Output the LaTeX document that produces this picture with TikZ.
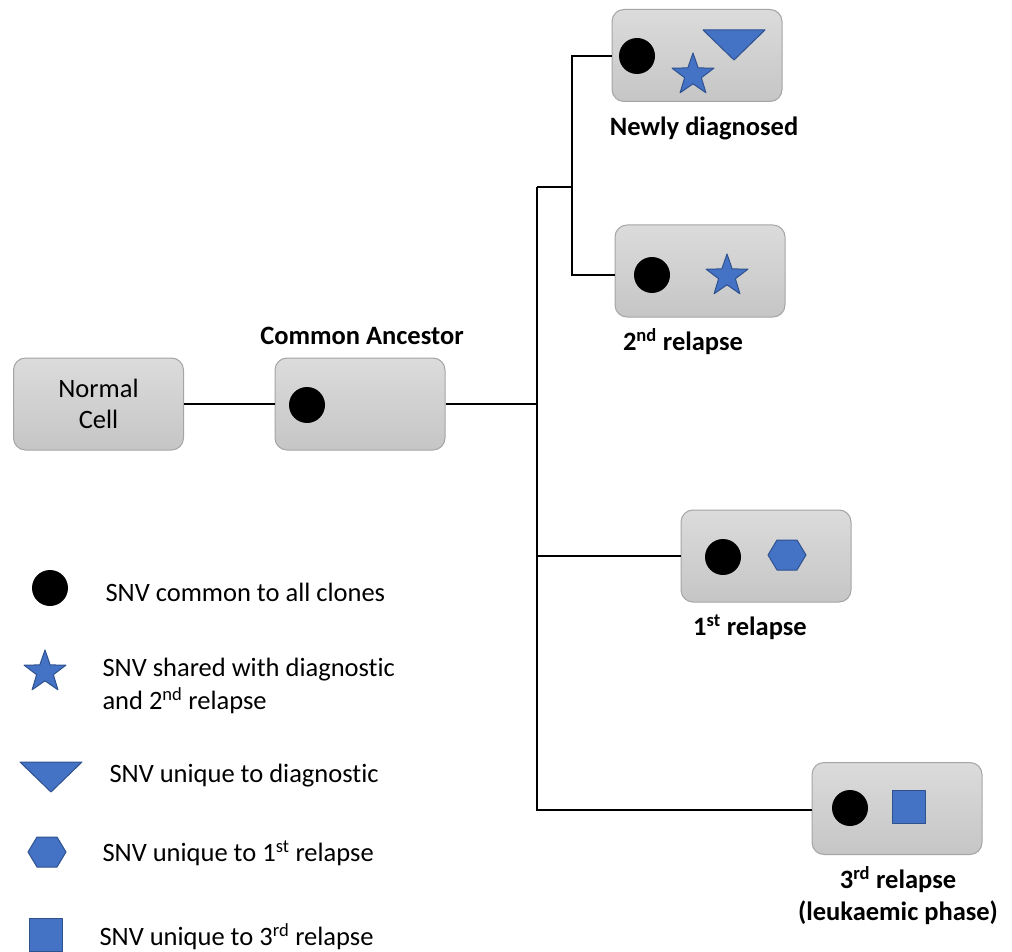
\documentclass[tikz,border=0pt]{standalone}
\usepackage{fontspec}
\setmainfont[Ligatures=NoCommon]{Carlito}
\usetikzlibrary{shapes.geometric}
\definecolor{snvblue}{RGB}{68,114,196}
\definecolor{snvedge}{RGB}{47,82,143}
\definecolor{celledge}{RGB}{165,165,165}

% flat triangle and hexagon for the markers
\newcommand{\snvtri}[2]{\draw[snvmark] (#1-31,#2-15) -- (#1+31,#2-15) -- (#1,#2+15) -- cycle;}
\newcommand{\snvhex}[2]{\draw[snvmark] (#1-19,#2) -- (#1-10,#2-15) -- (#1+10,#2-15) -- (#1+19,#2) -- (#1+10,#2+15) -- (#1-10,#2+15) -- cycle;}

\begin{document}
\begin{tikzpicture}[x=1pt, y=-1pt,
  cell/.style={draw=celledge, line width=1pt, rounded corners=12pt,
    top color=gray!28, bottom color=gray!45,
    minimum width=170pt, minimum height=92pt, inner sep=0pt,
    align=center, font=\fontsize{26.5}{31}\selectfont},
  dot/.style={circle, fill=black, minimum size=36pt, inner sep=0pt},
  snvmark/.style={fill=snvblue, draw=snvedge, line width=1pt, line join=round},
  starmark/.style={star, star points=5, star point ratio=2.5, snvmark,
    minimum size=44pt, inner sep=0pt},
  sqmark/.style={rectangle, snvmark, minimum size=33pt, inner sep=0pt},
  title/.style={font=\fontsize{26.5}{32}\bfseries\selectfont, align=center},
  legend/.style={anchor=west, align=left, font=\fontsize{26.5}{33}\selectfont},
  link/.style={line width=2pt}]
  \useasboundingbox (0,0) rectangle (1012,952);

  % cells
  \node[cell] (normal) at (98.5,404) {Normal\\Cell};
  \node[cell] (anc) at (360,404) {};
  \node[cell] (diag) at (697,55.5) {};
  \node[cell] (rel2) at (700,271) {};
  \node[cell] (rel1) at (766,556) {};
  \node[cell] (rel3) at (897,808.5) {};

  % names under / above the cells
  \node[title] (ancname) at (362,336) {Common Ancestor};
  \node[title] (diagname) at (704,128) {Newly diagnosed};
  \node[title] (rel2name) at (683,342) {2\textsuperscript{nd} relapse};
  \node[title] (rel1name) at (750,627) {1\textsuperscript{st} relapse};
  \node[title] (rel3name) at (898,896) {3\textsuperscript{rd} relapse\\(leukaemic phase)};

  % variants in each cell
  \node[dot] (ancdot) at (307,405) {};
  \node[dot] (diagdot) at (637,56) {};
  \node[starmark] (diagstar) at (693,75) {};
  \snvtri{734}{45}
  \node[dot] (rel2dot) at (652,275) {};
  \node[starmark] (rel2star) at (727,276) {};
  \node[dot] (rel1dot) at (723,557) {};
  \snvhex{787}{555}
  \node[dot] (rel3dot) at (850,808) {};
  \node[sqmark] (rel3sq) at (909,807) {};

  % tree
  \coordinate (t1) at (537,187);
  \coordinate (t2) at (537,810);
  \coordinate (b1) at (572,187);
  \draw[link] (normal) -- (anc);
  \draw[link] (anc.east) -- (anc.east -| t1);
  \draw[link] (t1) -- (t2) -- (rel3.west |- t2);
  \draw[link] (t1) -- (b1);
  \draw[link] (diag.west |- diagdot) -| (b1) |- (rel2.west |- rel2dot);
  \draw[link] (rel1.west) -- (rel1.west -| t1);

  % key
  \node[dot] (keydot) at (50,588) {};
  \node[legend] (keydottext) at (102,592) {SNV common to all clones};
  \node[starmark] (keystar) at (45,672) {};
  \node[legend] (keystartext) at (99,686) {SNV shared with diagnostic\\and 2\textsuperscript{nd} relapse};
  \snvtri{51}{777}
  \node[legend] (keytritext) at (106,776) {SNV unique to diagnostic};
  \snvhex{47}{852}
  \node[legend] (keyhextext) at (99,853) {SNV unique to 1\textsuperscript{st} relapse};
  \node[sqmark] (keysq) at (45.5,935) {};
  \node[legend] (keysqtext) at (96,937) {SNV unique to 3\textsuperscript{rd} relapse};
\end{tikzpicture}
\end{document}
